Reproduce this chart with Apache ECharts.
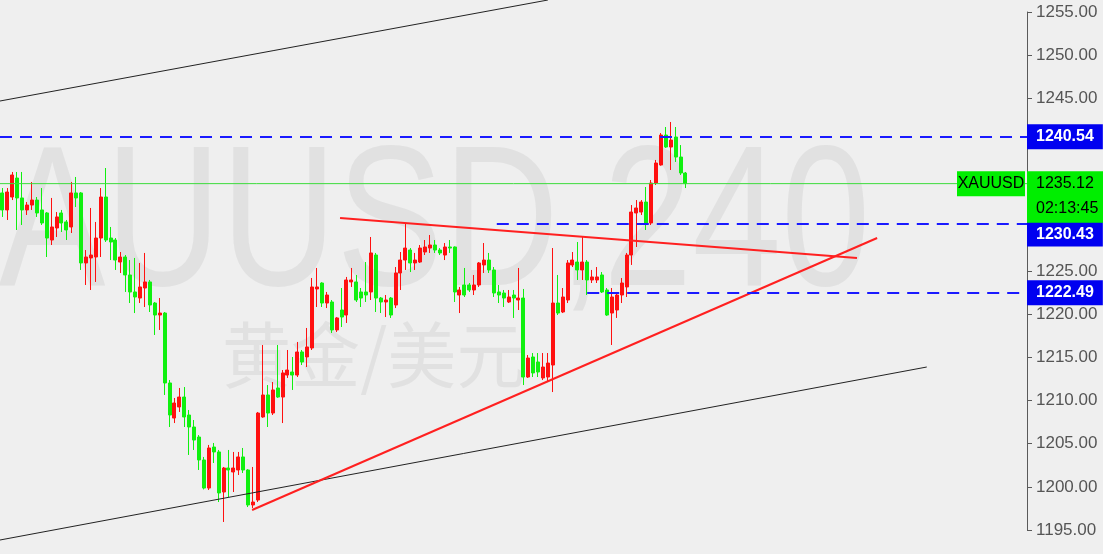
<!DOCTYPE html>
<html><head><meta charset="utf-8">
<script src="https://cdn.jsdelivr.net/npm/echarts@6/dist/echarts.min.js"></script>
<style>html,body{margin:0;padding:0;background:#efefef;}#c{width:1103px;height:554px;}</style>
</head><body><div id="c"></div>
<script>
// ---- data ----
const symbolName = 'XAUUSD';
const watermarkMain = 'XAUUSD,240';
const watermarkSub = '黄金/美元';
const timerText = '02:13:45';
const slotCount = 209; // bars of space on the time axis (data + empty right margin)
// candles: [open, close, low, high]
const ohlc = [
[1234.04,1232.07,1231.26,1234.61],[1232.07,1234.15,1230.91,1234.61],[1233.57,1236.12,1233.22,1236.47],
[1235.77,1233.46,1229.75,1236.47],[1233.46,1232.07,1230.33,1236.47],[1232.07,1232.64,1231.49,1232.99],
[1232.64,1233.22,1232.07,1235.31],[1233.22,1231.72,1231.26,1233.57],[1232.07,1230.56,1230.33,1234.61],
[1231.72,1228.82,1226.62,1231.83],[1228.59,1230.10,1228.01,1233.46],[1229.98,1231.26,1228.94,1231.83],
[1231.72,1230.56,1229.52,1232.07],[1230.68,1229.75,1228.59,1230.91],[1230.10,1234.04,1229.40,1235.31],
[1234.04,1233.46,1232.41,1235.89],[1234.04,1225.93,1225.12,1234.15],[1225.93,1226.62,1223.38,1227.43],
[1226.51,1226.85,1222.80,1232.30],[1226.62,1228.82,1223.73,1230.68],[1228.82,1233.57,1226.62,1234.61],
[1233.57,1228.59,1228.36,1236.93],[1228.82,1228.36,1226.27,1230.10],[1228.59,1226.27,1225.12,1228.82],
[1226.04,1226.62,1224.77,1227.20],[1226.62,1224.54,1222.57,1226.85],[1224.54,1222.57,1221.29,1226.27],
[1222.57,1221.99,1220.13,1226.51],[1221.87,1223.15,1221.29,1225.93],[1223.03,1223.73,1220.83,1227.09],
[1223.73,1221.06,1220.25,1223.96],[1221.29,1219.90,1217.59,1221.41],[1219.90,1220.13,1218.17,1221.87],
[1220.13,1212.03,1210.64,1220.25],[1212.03,1208.32,1206.93,1212.37],[1207.97,1209.71,1207.39,1210.29],
[1209.25,1210.40,1208.67,1211.45],[1210.40,1208.09,1206.93,1211.56],[1208.32,1206.93,1203.69,1208.90],
[1206.93,1205.42,1204.27,1207.74],[1205.77,1203.11,1201.95,1206.00],[1203.11,1199.86,1199.70,1203.46],
[1199.86,1204.50,1199.63,1204.85],[1204.61,1204.04,1202.76,1205.08],[1204.04,1199.29,1198.24,1204.27],
[1199.40,1202.18,1195.93,1202.30],[1202.18,1201.95,1198.82,1204.27],[1201.72,1202.18,1199.40,1204.04],
[1201.95,1203.46,1201.37,1204.04],[1203.46,1201.95,1201.60,1204.50],[1201.95,1197.90,1197.66,1202.05],
[1197.90,1198.24,1197.55,1202.30],[1198.47,1208.55,1198.24,1208.67],[1208.09,1210.64,1208.00,1216.43],
[1210.64,1208.55,1206.93,1211.79],[1208.55,1211.22,1208.32,1212.14],[1211.45,1210.40,1210.30,1216.43],
[1210.40,1213.19,1207.39,1213.53],[1212.95,1213.53,1212.61,1215.85],[1213.30,1212.95,1211.22,1215.04],
[1212.95,1215.62,1212.72,1216.78],[1215.62,1214.46,1214.11,1215.85],[1215.04,1216.20,1213.88,1218.40],
[1216.08,1223.15,1215.85,1224.19],[1222.92,1223.15,1220.83,1225.35],[1223.61,1221.29,1220.83,1223.70],
[1221.29,1222.22,1220.71,1222.57],[1221.41,1218.17,1217.82,1221.64],[1218.17,1219.56,1217.93,1219.67],
[1220.48,1219.67,1218.51,1223.03],[1219.90,1223.96,1218.98,1224.31],[1223.73,1223.96,1223.15,1225.35],
[1223.73,1221.64,1221.41,1224.54],[1222.57,1221.87,1220.83,1223.03],[1222.57,1222.22,1221.41,1226.04],
[1222.57,1227.09,1221.64,1228.94],[1226.85,1221.87,1220.25,1227.09],[1221.87,1221.41,1220.13,1221.99],
[1221.41,1221.64,1219.67,1222.22],[1221.87,1219.90,1219.56,1221.99],[1221.06,1224.77,1220.71,1225.46],
[1224.77,1226.27,1222.80,1227.20],[1226.27,1227.66,1225.12,1230.56],[1227.43,1225.93,1224.88,1227.66],
[1225.93,1226.27,1225.12,1227.09],[1226.04,1227.66,1225.93,1228.01],[1227.20,1227.78,1226.85,1228.59],
[1227.66,1228.01,1227.09,1229.17],[1228.01,1227.43,1227.09,1228.59],[1227.43,1227.09,1226.85,1227.66],
[1226.85,1227.78,1226.27,1228.24],[1227.78,1227.66,1227.09,1228.59],[1227.78,1222.57,1221.41,1227.85],
[1222.22,1222.80,1220.13,1223.15],[1223.38,1222.22,1221.99,1225.35],[1223.38,1222.80,1222.57,1223.61],
[1222.80,1223.38,1222.22,1224.54],[1223.38,1225.93,1223.15,1226.04],[1225.70,1226.27,1224.77,1228.24],
[1226.27,1225.12,1224.77,1227.09],[1225.12,1222.45,1221.99,1225.46],[1222.57,1222.22,1221.29,1223.38],
[1222.45,1221.87,1220.83,1222.80],[1221.41,1221.99,1221.29,1222.80],[1222.22,1221.87,1219.56,1222.80],
[1221.64,1221.87,1220.48,1225.35],[1221.87,1212.72,1211.79,1222.92],[1212.72,1214.92,1212.61,1215.27],
[1215.04,1213.19,1212.72,1215.50],[1214.46,1213.30,1212.72,1215.50],[1212.61,1213.88,1212.37,1215.50],
[1212.72,1214.34,1212.14,1215.50],[1214.11,1221.29,1210.98,1227.66],[1221.29,1220.13,1219.90,1224.54],
[1220.25,1221.99,1220.13,1223.03],[1221.64,1225.93,1221.29,1226.27],[1225.70,1226.27,1225.46,1227.20],
[1226.04,1225.12,1223.96,1228.36],[1225.12,1226.04,1223.96,1228.94],[1226.04,1223.96,1222.22,1226.27],
[1223.96,1224.31,1223.61,1225.12],[1223.96,1224.31,1223.61,1225.46],[1224.54,1222.57,1222.45,1224.88],
[1222.80,1219.90,1219.80,1223.03],[1220.13,1221.99,1216.43,1223.03],[1220.48,1222.22,1219.56,1222.57],
[1222.22,1223.61,1221.29,1224.19],[1223.15,1226.85,1221.99,1227.09],[1226.85,1231.83,1225.70,1232.64],
[1231.72,1232.30,1227.78,1233.22],[1231.83,1232.99,1231.49,1233.22],[1232.99,1230.56,1229.75,1234.73],
[1230.56,1235.19,1230.33,1235.54],[1235.19,1237.51,1234.96,1237.86],[1237.28,1240.75,1237.20,1240.98],
[1240.75,1239.36,1239.25,1241.68],[1239.36,1240.17,1236.70,1242.26],[1240.52,1238.20,1237.63,1241.68],
[1238.20,1236.35,1236.12,1239.59],[1236.35,1235.12,1234.61,1236.47]
];
// trend lines: [barIndex, price] endpoints
const triangleUpper = [[68.7, 1231.14], [173.9, 1226.51]];
const triangleLower = [[50.8, 1197.32], [178.0, 1228.82]];
const channelUpper = [[-0.5, 1244.69], [111.0, 1256.39]];
const channelLower = [[-0.5, 1193.84], [188.1, 1213.88]];
// horizontal levels: [startBarIndex, price]
const resistanceLevel = [-0.5, 1240.54];
const midLevel = [100.6, 1230.43];
const supportLevel = [119.0, 1222.49];
const currentPrice = 1235.12;
const yMin = 1195, yMax = 1255, yStep = 5;

// ---- chart ----
const categories = Array.from({length: slotCount}, (_, i) => String(i));
const chart = echarts.init(document.getElementById('c'), null, {renderer: 'canvas'});
const xEnd = slotCount - 0.5;
function priceLbl(v, bg, fg, weight, dy) {
  return {show: true, position: 'end', distance: 0, backgroundColor: bg, color: fg, offset: [0, dy || 0],
    fontFamily: 'Liberation Sans', fontSize: 16, fontWeight: weight, padding: [4, 9, 3, 9], lineHeight: 18,
    formatter: v.toFixed(2)};
}
const blueLine = {color: '#1a1aff', width: 2, type: [12, 8]};
function trend(data, color, width) {
  return {type: 'line', xAxisIndex: 1, yAxisIndex: 0, data: data, symbol: 'none', clip: false,
    lineStyle: {color: color, width: width}, itemStyle: {color: color}, silent: true, z: 3};
}
function levelLine(lv, dy) {
  return [{coord: [lv[0], lv[1]], lineStyle: blueLine, label: priceLbl(lv[1], '#0000f0', '#ffffff', 'bold', dy)},
          {coord: [xEnd, lv[1]]}];
}
const wm = [
  {type: 'text', silent: true, z: -10, x: -108, y: 230, scaleX: 0.8, originX: 0,
    style: {text: watermarkMain, font: '200px "Liberation Sans"', fill: '#e1e1e1', align: 'left', verticalAlign: 'middle'}},
  {type: 'text', silent: true, z: -10, x: 222, y: 355, scaleX: 0.96, originX: 0,
    style: {text: watermarkSub, font: '72px "Noto Sans CJK SC"', fill: '#e1e1e1', align: 'left', verticalAlign: 'middle'}}
];
const option = {
  backgroundColor: '#efefef',
  animation: false,
  grid: {left: 0, right: 76, top: 12, bottom: 24, containLabel: false},
  xAxis: [
    {type: 'category', data: categories, boundaryGap: true, show: false},
    {type: 'value', min: -0.5, max: xEnd, show: false}
  ],
  yAxis: {type: 'value', position: 'right', min: yMin, max: yMax, interval: yStep,
    axisLine: {show: true, onZero: false, lineStyle: {color: '#5a5a5a', width: 1}},
    axisTick: {show: true, inside: false, length: 5, lineStyle: {color: '#5a5a5a'}},
    axisLabel: {color: '#555555', fontFamily: 'Liberation Sans', fontSize: 17, margin: 9,
      formatter: v => v.toFixed(2)},
    splitLine: {show: false}},
  series: [
    trend([[-0.5, currentPrice], [xEnd, currentPrice]], '#3cdc3c', 1),
    {type: 'candlestick', xAxisIndex: 0, yAxisIndex: 0, data: ohlc, barWidth: 3.5,
      itemStyle: {color: '#ff1010', color0: '#10f010', borderColor: '#ff1010', borderColor0: '#10f010', borderWidth: 1}, z: 2},
    trend(channelUpper, '#222222', 1),
    trend(channelLower, '#222222', 1),
    trend(triangleUpper, '#ff2020', 2),
    Object.assign(trend(triangleLower, '#ff2020', 2), {
      markLine: {silent: true, symbol: ['none', 'none'], animation: false,
        data: [
          levelLine(resistanceLevel, 0),
          levelLine(midLevel, 10),
          levelLine(supportLevel, 0)
        ]}
    })
  ],
  graphic: wm
};
chart.setOption(option);
const yCur = chart.convertToPixel({yAxisIndex: 0}, currentPrice);
const axisX = chart.convertToPixel({xAxisIndex: 1}, xEnd);
chart.setOption({graphic: wm.concat([
  {type: 'group', z: 100, children: [
    {type: 'rect', shape: {x: axisX, y: yCur - 12.5, width: 1103 - axisX, height: 51.5}, style: {fill: '#00ee00'}, z: 100},
    {type: 'text', x: axisX + 9, y: yCur, z: 101,
      style: {text: currentPrice.toFixed(2), font: '16px "Liberation Sans"', fill: '#000', align: 'left', verticalAlign: 'middle'}},
    {type: 'text', x: axisX + 9, y: yCur + 25, z: 101,
      style: {text: timerText, font: '16px "Liberation Sans"', fill: '#000', align: 'left', verticalAlign: 'middle'}},
    {type: 'rect', shape: {x: axisX - 70, y: yCur - 12.5, width: 68, height: 25}, style: {fill: '#00ee00'}, z: 100},
    {type: 'text', x: axisX - 36, y: yCur, z: 101,
      style: {text: symbolName, font: '16px "Liberation Sans"', fill: '#000', align: 'center', verticalAlign: 'middle'}}
  ]}
])});
</script></body></html>
